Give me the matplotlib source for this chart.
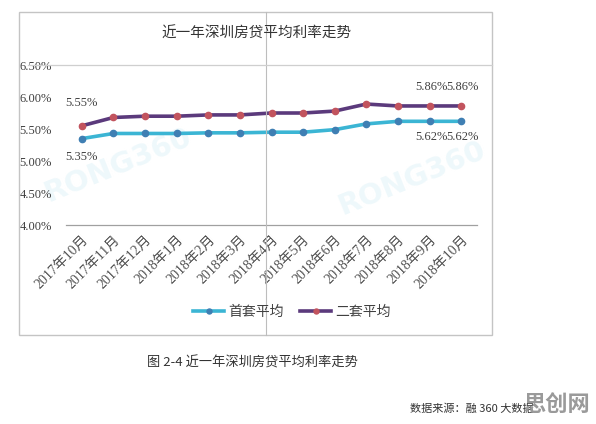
import matplotlib.pyplot as plt
import matplotlib.transforms as mtransforms
from matplotlib.lines import Line2D
from matplotlib.patches import Rectangle

# 数据
months = ["2017年10月", "2017年11月", "2017年12月", "2018年1月", "2018年2月",
          "2018年3月", "2018年4月", "2018年5月", "2018年6月", "2018年7月",
          "2018年8月", "2018年9月", "2018年10月"]
first_home = [5.35, 5.43, 5.43, 5.43, 5.44, 5.44, 5.45, 5.45, 5.49, 5.58, 5.62, 5.62, 5.62]
second_home = [5.55, 5.68, 5.70, 5.70, 5.72, 5.72, 5.75, 5.75, 5.78, 5.89, 5.86, 5.86, 5.86]
y_ticks = [4.00, 4.50, 5.00, 5.50, 6.00, 6.50]

SERIF = ["Liberation Serif", "Noto Sans CJK SC"]
CJK = ["Noto Sans CJK SC", "DejaVu Sans"]

W, H = 596, 424
fig = plt.figure(figsize=(W / 100, H / 100), dpi=100)
fig.patch.set_facecolor("white")


def fx(px):
    return px / W


def fy(py):
    return 1 - py / H


# 外框
fig.add_artist(Rectangle((fx(19), fy(335)), fx(492) - fx(19), fy(12) - fy(335),
                         transform=fig.transFigure, fill=False,
                         edgecolor="#c4c4c4", linewidth=1.0))
# 折痕竖线
fig.add_artist(Line2D([fx(266), fx(266)], [fy(12), fy(335)],
                      transform=fig.transFigure, color="#bdbdbd", linewidth=0.8))
# 顶部网格线
fig.add_artist(Line2D([fx(28), fx(492)], [fy(65), fy(65)],
                      transform=fig.transFigure, color="#cfcfcf", linewidth=0.9))

# 水印
fig.text(fx(118), fy(165), "RONG360", fontsize=21, fontweight="bold", color="#eef8fb",
         rotation=22, ha="center", va="center", family="DejaVu Sans", zorder=-1)
fig.text(fx(412), fy(178), "RONG360", fontsize=21, fontweight="bold", color="#eef8fb",
         rotation=22, ha="center", va="center", family="DejaVu Sans", zorder=-1)

ax = fig.add_axes([fx(66), fy(225), fx(477) - fx(66), fy(65) - fy(225)])
ax.set_facecolor("none")
x = list(range(len(months)))

ax.plot(x, first_home, color="#3bb5d4", linewidth=2.6, marker="o", markersize=4.5,
        markerfacecolor="#3f7fb3", markeredgecolor="#3f7fb3", label="首套平均", zorder=3)
ax.plot(x, second_home, color="#5b3a7c", linewidth=2.6, marker="o", markersize=4.5,
        markerfacecolor="#c2545e", markeredgecolor="#c2545e", label="二套平均", zorder=3)

ax.set_xlim(-0.5, 12.5)
ax.set_ylim(4.0, 6.5)
ax.set_yticks(y_ticks)
ax.set_yticklabels([f"{v:.2f}%" for v in y_ticks], family=SERIF, fontsize=9, color="#404040")
ax.set_xticks(x)
ax.set_xticklabels(months, rotation=45, ha="right", va="top", rotation_mode="anchor",
                   family=SERIF, fontsize=10, color="#505050")
shift = mtransforms.ScaledTranslation(6 / 100, 0, fig.dpi_scale_trans)
for lbl in ax.get_xticklabels():
    lbl.set_transform(lbl.get_transform() + shift)
ax.tick_params(axis="x", length=0, pad=6)
ax.tick_params(axis="y", length=0, pad=10)
for s in ["top", "right", "left"]:
    ax.spines[s].set_visible(False)
ax.spines["bottom"].set_color("#a0a0a0")
ax.spines["bottom"].set_linewidth(0.9)

# 数据标签
lab_kw = dict(fontsize=9, family=SERIF, color="#404040", ha="center")
ax.annotate(f"{second_home[0]:.2f}%", (0, second_home[0]), xytext=(0, 12),
            textcoords="offset points", va="bottom", **lab_kw)
ax.annotate(f"{first_home[0]:.2f}%", (0, first_home[0]), xytext=(0, -9),
            textcoords="offset points", va="top", **lab_kw)
for i in [11, 12]:
    ax.annotate(f"{second_home[i]:.2f}%", (i, second_home[i]), xytext=(1, 9),
                textcoords="offset points", va="bottom", **lab_kw)
    ax.annotate(f"{first_home[i]:.2f}%", (i, first_home[i]), xytext=(1, -7),
                textcoords="offset points", va="top", **lab_kw)

# 标题
fig.text(fx(256), fy(34), "近一年深圳房贷平均利率走势", fontsize=10.5, family=CJK,
         color="#333333", ha="center", va="center")

# 图例
leg = fig.legend(loc="center", bbox_to_anchor=(fx(292), fy(312)), ncol=2, frameon=False,
                 prop={"family": CJK, "size": 10}, handlelength=2.2, columnspacing=1.2,
                 handletextpad=0.3, markerscale=0.8)
for t in leg.get_texts():
    t.set_color("#404040")

# 图注与来源
fig.text(fx(252), fy(363), "图 2-4 近一年深圳房贷平均利率走势", fontsize=9.5, family=CJK,
         color="#333333", ha="center", va="center")
fig.text(fx(410), fy(409), "数据来源：融 360 大数据", fontsize=8, family=CJK,
         color="#333333", ha="left", va="center")
fig.text(fx(590), fy(404), "思创网", fontsize=16, fontweight="bold", family=CJK,
         color="#9a9a9a", ha="right", va="center")

fig.savefig("out.png", dpi=100)
